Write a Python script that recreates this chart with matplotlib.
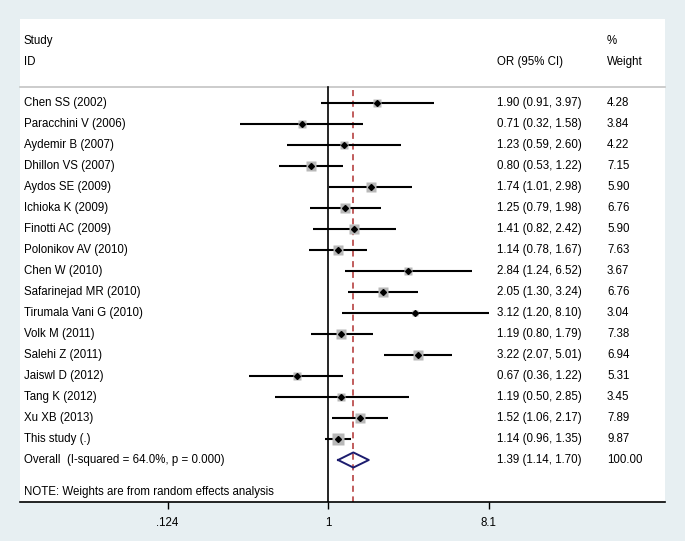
import matplotlib
matplotlib.use("Agg")
import matplotlib.pyplot as plt
import numpy as np

studies = ["Chen SS (2002)", "Paracchini V (2006)", "Aydemir B (2007)", "Dhillon VS (2007)",
           "Aydos SE (2009)", "Ichioka K (2009)", "Finotti AC (2009)", "Polonikov AV (2010)",
           "Chen W (2010)", "Safarinejad MR (2010)", "Tirumala Vani G (2010)", "Volk M (2011)",
           "Salehi Z (2011)", "Jaiswl D (2012)", "Tang K (2012)", "Xu XB (2013)", "This study (.)"]
or_vals = [1.90, 0.71, 1.23, 0.80, 1.74, 1.25, 1.41, 1.14, 2.84, 2.05, 3.12, 1.19, 3.22, 0.67, 1.19, 1.52, 1.14]
ci_low = [0.91, 0.32, 0.59, 0.53, 1.01, 0.79, 0.82, 0.78, 1.24, 1.30, 1.20, 0.80, 2.07, 0.36, 0.50, 1.06, 0.96]
ci_high = [3.97, 1.58, 2.60, 1.22, 2.98, 1.98, 2.42, 1.67, 6.52, 3.24, 8.10, 1.79, 5.01, 1.22, 2.85, 2.17, 1.35]
weights = [4.28, 3.84, 4.22, 7.15, 5.90, 6.76, 5.90, 7.63, 3.67, 6.76, 3.04, 7.38, 6.94, 5.31, 3.45, 7.89, 9.87]
overall_label = "Overall  (I-squared = 64.0%, p = 0.000)"
overall_or, overall_lo, overall_hi, overall_w = 1.39, 1.14, 1.70, 100.00
tick_vals = [0.124, 1, 8.1]
tick_labels = [".124", "1", "8.1"]

plt.rcParams['font.family'] = ['Liberation Sans', 'DejaVu Sans']
W, H = 685, 541
fig = plt.figure(figsize=(W / 100, H / 100), dpi=100)
fig.patch.set_facecolor('#e7eff2')

left_px, right_px, top_px, bot_px = 20, 665, 19, 502
ax = fig.add_axes([left_px / W, (H - bot_px) / H, (right_px - left_px) / W, (bot_px - top_px) / H])
ax.set_facecolor('white')
ax.set_xscale('log')
ppd = 177.0
x1 = 328
ax.set_xlim(10 ** ((left_px - x1) / ppd), 10 ** ((right_px - x1) / ppd))
ax.set_ylim(19.0, -4.0)

for s in ['top', 'left', 'right']:
    ax.spines[s].set_visible(False)
ax.spines['bottom'].set_linewidth(1.2)
ax.set_yticks([])
ax.set_xticks(tick_vals)
ax.set_xticklabels(tick_labels, fontsize=8.3)
ax.xaxis.set_minor_locator(matplotlib.ticker.NullLocator())
ax.tick_params(axis='x', length=5, width=1.0, pad=6)

fs = 8.3
txt_x_name = (24 - left_px) / (right_px - left_px)
txt_x_or = (497 - left_px) / (right_px - left_px)
txt_x_w = (607 - left_px) / (right_px - left_px)
tr = matplotlib.transforms.blended_transform_factory(ax.transAxes, ax.transData)

# header
ax.text(txt_x_name, -2.95, "Study", transform=tr, fontsize=fs, va='center')
ax.text(txt_x_name, -1.95, "ID", transform=tr, fontsize=fs, va='center')
ax.text(txt_x_or, -1.95, "OR (95% CI)", transform=tr, fontsize=fs, va='center')
ax.text(txt_x_w, -2.95, "%", transform=tr, fontsize=fs, va='center')
ax.text(txt_x_w, -1.95, "Weight", transform=tr, fontsize=fs, va='center')
ax.plot([0, 1], [-0.76, -0.76], transform=tr, color='#c4c4c4', lw=1.2, clip_on=False)

# reference lines
ax.plot([1, 1], [-0.76, 19.0], color='black', lw=1.2, zorder=2)
ax.plot([overall_or, overall_or], [-0.6, 19.0], color='#b03030', lw=1.1, ls=(0, (4, 3)), zorder=2)

for i, (name, o, lo, hi, w) in enumerate(zip(studies, or_vals, ci_low, ci_high, weights)):
    ax.plot([lo, hi], [i, i], color='black', lw=1.5, zorder=3, solid_capstyle='butt')
    side_px = 3.8 * np.sqrt(w)
    ax.plot([o], [i], marker='s', ms=side_px * 0.72, color='#b8b8b8', mec='none', zorder=4)
    ax.plot([o], [i], marker='D', ms=3.0, color='black', zorder=5)
    ax.text(txt_x_name, i, name, transform=tr, fontsize=fs, va='center')
    ax.text(txt_x_or, i, f"{o:.2f} ({lo:.2f}, {hi:.2f})", transform=tr, fontsize=fs, va='center')
    ax.text(txt_x_w, i, f"{w:.2f}", transform=tr, fontsize=fs, va='center')

yo = len(studies)
h = 0.36
ax.plot([overall_lo, overall_or, overall_hi, overall_or, overall_lo],
        [yo, yo - h, yo, yo + h, yo], color='#1c1c6e', lw=1.4, zorder=6)
ax.text(txt_x_name, yo, overall_label, transform=tr, fontsize=fs, va='center')
ax.text(txt_x_or, yo, f"{overall_or:.2f} ({overall_lo:.2f}, {overall_hi:.2f})", transform=tr, fontsize=fs, va='center')
ax.text(txt_x_w, yo, f"{overall_w:.2f}", transform=tr, fontsize=fs, va='center')

ax.text(txt_x_name, 18.5, "NOTE: Weights are from random effects analysis", transform=tr, fontsize=fs, va='center')

fig.savefig("out.png", dpi=100, facecolor=fig.get_facecolor())
